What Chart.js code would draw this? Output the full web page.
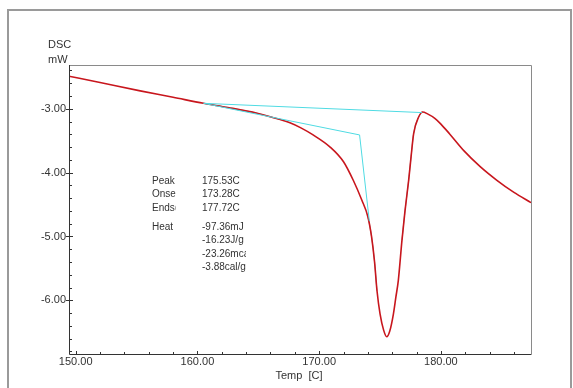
<!DOCTYPE html>
<html>
<head>
<meta charset="utf-8">
<script src="https://cdn.jsdelivr.net/npm/chart.js@4/dist/chart.umd.min.js"></script>
<style>
  html, body { margin: 0; padding: 0; background: #fff; }
  #wrap { width: 573px; height: 388px; position: relative; }
</style>
</head>
<body>
<div id="wrap"><canvas id="grafico" width="573" height="388"></canvas></div>
<script>
const temps = [149.45, 152.0, 155.3, 158.0, 160.5, 162.5, 164.9, 166.8, 167.6, 168.5, 169.5, 170.9, 172.0, 172.8, 173.5, 174.0, 174.3, 174.55, 174.75, 175.0, 175.3, 175.55, 175.8, 176.1, 176.3, 176.5, 176.8, 177.05, 177.35, 177.55, 177.76, 178.17, 178.5, 178.9, 179.5, 180.0, 180.7, 181.9, 183.25, 184.6, 186.0, 187.4];
const dsc = [-2.49, -2.59, -2.72, -2.82, -2.915, -2.98, -3.07, -3.17, -3.22, -3.30, -3.41, -3.60, -3.83, -4.12, -4.43, -4.69, -5.00, -5.40, -5.85, -6.21, -6.47, -6.57, -6.48, -6.21, -5.95, -5.69, -5.06, -4.60, -4.12, -3.75, -3.39, -3.13, -3.05, -3.08, -3.15, -3.24, -3.39, -3.66, -3.91, -4.12, -4.31, -4.47];

// Linea base de integracion y tangente de onset
const baseTemps = [160.5, 178.45];
const baseVals = [-2.915, -3.06];
const onsetTemps = [160.5, 173.32, 174.12];
const onsetVals = [-2.915, -3.41, -4.76];

// Tramos resaltados sobre la curva
const highlightRanges = [[160.5, 166.5], [174.1, 174.7], [176.8, 178.5]];

// Ejes
const xMin = 149.45, xMax = 187.4;
const yMin = -6.84, yMax = -2.315;
const xTicks = [150, 160, 170, 180];
const yTicks = [-3, -4, -5, -6];

// Resultados
const resultLabels = ['Peak', 'Onset', 'Endset', 'Heat'];
const resultValues = ['175.53C', '173.28C', '177.72C', '-97.36mJ', '-16.23J/g', '-23.26mcal', '-3.88cal/g'];

const toXY = (xs, ys) => xs.map((x, i) => ({ x: x, y: ys[i] }));
const FONT = '"Liberation Sans", Arial, sans-serif';

const enRango = (x) => highlightRanges.some(r => x >= r[0] && x <= r[1]);

const marco = {
    id: 'marco',
    afterDraw(chart) {
        const ctx = chart.ctx;
        const a = chart.chartArea;
        const sx = chart.scales.x, sy = chart.scales.y;
        ctx.save();

        // marco exterior
        ctx.strokeStyle = '#9a9a9a';
        ctx.lineWidth = 2;
        ctx.beginPath();
        ctx.moveTo(8, 388); ctx.lineTo(8, 10); ctx.lineTo(571, 10); ctx.lineTo(571, 388);
        ctx.stroke();

        // borde del area
        ctx.lineWidth = 1;
        ctx.strokeStyle = '#8a8a8a';
        ctx.beginPath();
        ctx.moveTo(a.left, a.top + 0.5); ctx.lineTo(a.right + 0.5, a.top + 0.5); ctx.lineTo(a.right + 0.5, a.bottom);
        ctx.stroke();
        ctx.strokeStyle = '#333';
        ctx.beginPath();
        ctx.moveTo(a.left + 0.5, a.top); ctx.lineTo(a.left + 0.5, a.bottom + 0.5); ctx.lineTo(a.right + 0.5, a.bottom + 0.5);
        ctx.stroke();

        // marcas eje y
        ctx.beginPath();
        for (let v = Math.ceil(yMin * 5) / 5; v <= yMax; v += 0.2) {
            const py = Math.round(sy.getPixelForValue(v)) + 0.5;
            ctx.moveTo(a.left, py); ctx.lineTo(a.left + 3, py);
        }
        yTicks.forEach(v => {
            const py = Math.round(sy.getPixelForValue(v)) + 0.5;
            ctx.moveTo(a.left - 3, py); ctx.lineTo(a.left + 4, py);
        });
        // marcas eje x
        for (let v = 150; v <= xMax; v += 2) {
            const px = Math.round(sx.getPixelForValue(v)) + 0.5;
            ctx.moveTo(px, a.bottom); ctx.lineTo(px, a.bottom - 2);
        }
        xTicks.forEach(v => {
            const px = Math.round(sx.getPixelForValue(v)) + 0.5;
            ctx.moveTo(px, a.bottom + 1); ctx.lineTo(px, a.bottom - 3);
        });
        ctx.stroke();

        // etiquetas
        ctx.fillStyle = '#333';
        ctx.font = '11px ' + FONT;
        ctx.textBaseline = 'middle';
        ctx.textAlign = 'right';
        yTicks.forEach(v => ctx.fillText(v.toFixed(2), a.left - 3, sy.getPixelForValue(v)));
        ctx.textAlign = 'center';
        xTicks.forEach(v => ctx.fillText(v.toFixed(2), sx.getPixelForValue(v), a.bottom + 8));
        ctx.fillText('Temp  [C]', 299, 376);
        ctx.textAlign = 'left';
        ctx.fillText('DSC', 48, 45);
        ctx.fillText('mW', 48, 60);

        // tabla de resultados
        ctx.font = '10px ' + FONT;
        ctx.save();
        ctx.beginPath(); ctx.rect(150, 170, 25.5, 110); ctx.clip();
        const filas = [181, 194.5, 208, 227];
        resultLabels.forEach((t, i) => ctx.fillText(t, 152, filas[i]));
        ctx.restore();
        ctx.save();
        ctx.beginPath(); ctx.rect(200, 170, 46, 110); ctx.clip();
        const filasV = [181, 194.5, 208, 227, 240.5, 254, 267.5];
        resultValues.forEach((t, i) => ctx.fillText(t, 202, filasV[i]));
        ctx.restore();

        ctx.restore();
    }
};

const ctx = document.getElementById('grafico').getContext('2d');
const chart = new Chart(ctx, {
    type: 'line',
    data: {
        datasets: [
            {
                label: 'Base',
                data: toXY(baseTemps, baseVals),
                borderColor: '#4fdbe3',
                borderWidth: 1,
                pointRadius: 0,
                tension: 0
            },
            {
                label: 'Onset',
                data: toXY(onsetTemps, onsetVals),
                borderColor: '#4fdbe3',
                borderWidth: 1,
                pointRadius: 0,
                tension: 0
            },
            {
                label: 'DSC',
                data: toXY(temps, dsc),
                borderColor: '#c8161d',
                borderWidth: 1.6,
                pointRadius: 0,
                cubicInterpolationMode: 'monotone'
            },
            {
                label: 'Resaltado',
                data: toXY(temps, dsc),
                borderWidth: 0.8,
                pointRadius: 0,
                cubicInterpolationMode: 'monotone',
                segment: {
                    borderColor: s => enRango((s.p0.parsed.x + s.p1.parsed.x) / 2) ? 'rgba(70,110,120,0.75)' : 'rgba(0,0,0,0)'
                }
            }
        ]
    },
    options: {
        responsive: false,
        animation: false,
        devicePixelRatio: 1,
        layout: { padding: { left: 69, top: 65, right: 42, bottom: 34 } },
        plugins: { legend: { display: false }, tooltip: { enabled: false } },
        scales: {
            x: { type: 'linear', min: xMin, max: xMax, display: false },
            y: { type: 'linear', min: yMin, max: yMax, display: false }
        }
    },
    plugins: [marco]
});
</script>
</body>
</html>
